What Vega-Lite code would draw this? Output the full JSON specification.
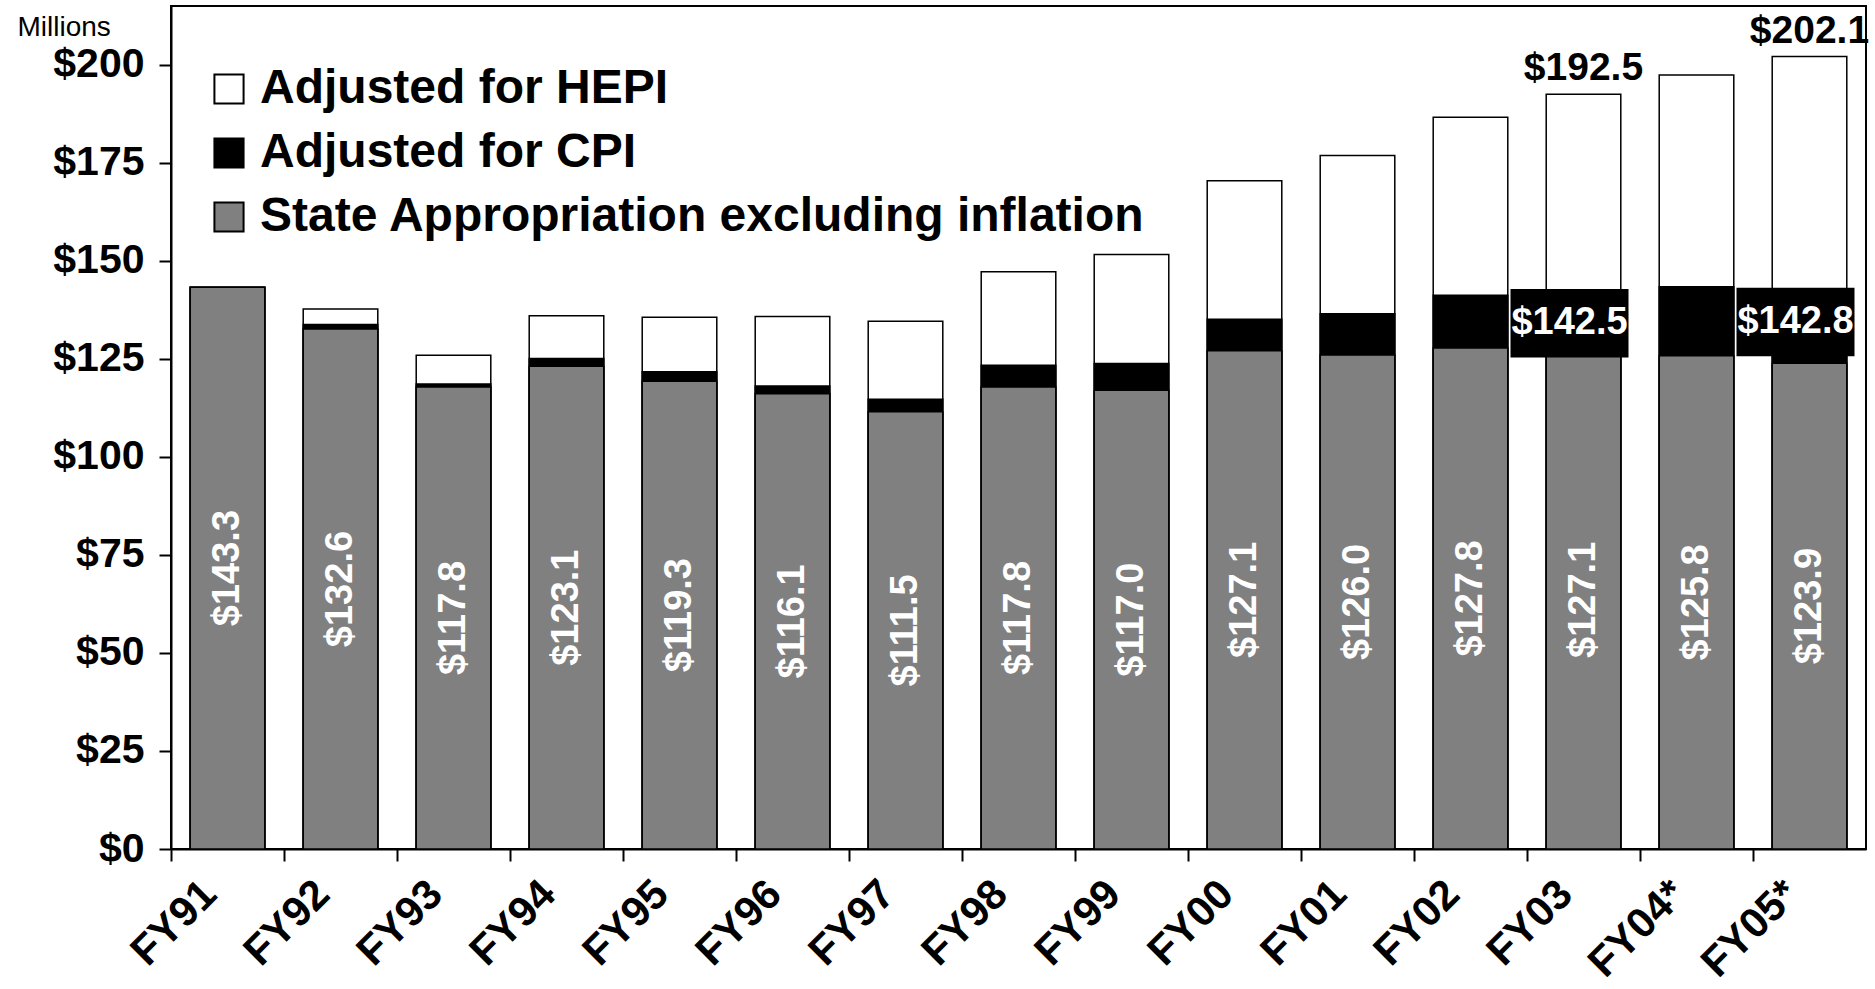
{
  "$schema": "https://vega.github.io/schema/vega-lite/v6.json",
  "autosize": "none",
  "width": 1695,
  "height": 843,
  "padding": {"left": 171, "top": 6, "right": 9, "bottom": 140},
  "background": "white",
  "config": {
    "view": {"stroke": "black", "strokeWidth": 2},
    "font": "Liberation Sans"
  },
  "data": {
    "values": [
      {"year": "FY91", "series": "Adjusted for HEPI", "value": 143.3},
      {"year": "FY92", "series": "Adjusted for HEPI", "value": 137.7},
      {"year": "FY93", "series": "Adjusted for HEPI", "value": 125.9},
      {"year": "FY94", "series": "Adjusted for HEPI", "value": 136.0},
      {"year": "FY95", "series": "Adjusted for HEPI", "value": 135.6},
      {"year": "FY96", "series": "Adjusted for HEPI", "value": 135.8},
      {"year": "FY97", "series": "Adjusted for HEPI", "value": 134.6},
      {"year": "FY98", "series": "Adjusted for HEPI", "value": 147.2},
      {"year": "FY99", "series": "Adjusted for HEPI", "value": 151.6},
      {"year": "FY00", "series": "Adjusted for HEPI", "value": 170.4},
      {"year": "FY01", "series": "Adjusted for HEPI", "value": 176.9},
      {"year": "FY02", "series": "Adjusted for HEPI", "value": 186.6},
      {"year": "FY03", "series": "Adjusted for HEPI", "value": 192.5},
      {"year": "FY04*", "series": "Adjusted for HEPI", "value": 197.4},
      {"year": "FY05*", "series": "Adjusted for HEPI", "value": 202.1},
      {"year": "FY91", "series": "Adjusted for CPI", "value": 143.3},
      {"year": "FY92", "series": "Adjusted for CPI", "value": 133.8},
      {"year": "FY93", "series": "Adjusted for CPI", "value": 118.6},
      {"year": "FY94", "series": "Adjusted for CPI", "value": 125.1},
      {"year": "FY95", "series": "Adjusted for CPI", "value": 121.7},
      {"year": "FY96", "series": "Adjusted for CPI", "value": 118.1},
      {"year": "FY97", "series": "Adjusted for CPI", "value": 114.7},
      {"year": "FY98", "series": "Adjusted for CPI", "value": 123.4},
      {"year": "FY99", "series": "Adjusted for CPI", "value": 123.8},
      {"year": "FY00", "series": "Adjusted for CPI", "value": 135.1},
      {"year": "FY01", "series": "Adjusted for CPI", "value": 136.5},
      {"year": "FY02", "series": "Adjusted for CPI", "value": 141.2},
      {"year": "FY03", "series": "Adjusted for CPI", "value": 142.5},
      {"year": "FY04*", "series": "Adjusted for CPI", "value": 143.4},
      {"year": "FY05*", "series": "Adjusted for CPI", "value": 142.8},
      {"year": "FY91", "series": "State Appropriation excluding inflation", "value": 143.3},
      {"year": "FY92", "series": "State Appropriation excluding inflation", "value": 132.6},
      {"year": "FY93", "series": "State Appropriation excluding inflation", "value": 117.8},
      {"year": "FY94", "series": "State Appropriation excluding inflation", "value": 123.1},
      {"year": "FY95", "series": "State Appropriation excluding inflation", "value": 119.3},
      {"year": "FY96", "series": "State Appropriation excluding inflation", "value": 116.1},
      {"year": "FY97", "series": "State Appropriation excluding inflation", "value": 111.5},
      {"year": "FY98", "series": "State Appropriation excluding inflation", "value": 117.8},
      {"year": "FY99", "series": "State Appropriation excluding inflation", "value": 117.0},
      {"year": "FY00", "series": "State Appropriation excluding inflation", "value": 127.1},
      {"year": "FY01", "series": "State Appropriation excluding inflation", "value": 126.0},
      {"year": "FY02", "series": "State Appropriation excluding inflation", "value": 127.8},
      {"year": "FY03", "series": "State Appropriation excluding inflation", "value": 127.1},
      {"year": "FY04*", "series": "State Appropriation excluding inflation", "value": 125.8},
      {"year": "FY05*", "series": "State Appropriation excluding inflation", "value": 123.9}
    ]
  },
  "resolve": {"axis": {"x": "independent"}},
  "layer": [
    {
      "mark": {"type": "bar", "width": {"band": 0.66}, "stroke": "black", "strokeWidth": 1.5},
      "encoding": {
        "x": {
          "field": "year", "type": "nominal", "sort": null,
          "scale": {"paddingInner": 0, "paddingOuter": 0},
          "axis": {
            "orient": "bottom", "title": null, "ticks": false, "domain": true,
            "domainColor": "black", "domainWidth": 2,
            "labelAngle": -45, "labelAlign": "right", "labelBaseline": "middle",
            "labelOffset": -18,
            "labelFontSize": 42, "labelFontWeight": "bold",
            "labelColor": "black", "labelPadding": 38, "labelFont": "Liberation Sans"
          }
        },
        "y": {
          "field": "value", "type": "quantitative", "stack": null,
          "scale": {"domain": [0, 215], "nice": false},
          "axis": {
            "values": [0, 25, 50, 75, 100, 125, 150, 175, 200],
            "format": "$d", "grid": false,
            "domainColor": "black", "domainWidth": 2,
            "tickColor": "black", "tickWidth": 2, "tickSize": 12,
            "labelFontSize": 41, "labelFontWeight": "bold", "labelColor": "black",
            "labelPadding": 15, "labelFont": "Liberation Sans",
            "title": "Millions", "titleAngle": 0, "titleAlign": "left",
            "titleBaseline": "middle", "titleX": -154, "titleY": 21,
            "titleFontSize": 28, "titleFontWeight": "normal", "titleColor": "black",
            "titleFont": "Liberation Sans"
          }
        },
        "fill": {
          "field": "series", "type": "nominal",
          "scale": {
            "domain": ["Adjusted for HEPI", "Adjusted for CPI", "State Appropriation excluding inflation"],
            "range": ["white", "black", "#808080"]
          },
          "legend": {
            "orient": "none", "legendX": 34, "legendY": 59, "title": null,
            "symbolType": "square", "symbolSize": 850,
            "symbolStrokeColor": "black", "symbolStrokeWidth": 2,
            "labelFontSize": 48, "labelFontWeight": "bold", "labelColor": "black",
            "labelFont": "Liberation Sans", "labelLimit": 2000,
            "labelOffset": 7, "rowPadding": 16
          }
        }
      }
    },
    {
      "transform": [
        {"filter": "datum.series === 'State Appropriation excluding inflation'"},
        {"calculate": "datum.value / 2", "as": "mid"}
      ],
      "mark": {"type": "text", "angle": 270, "color": "white", "fontSize": 38, "fontWeight": "bold", "align": "center", "baseline": "middle", "font": "Liberation Sans"},
      "encoding": {
        "x": {
          "field": "year", "type": "nominal", "sort": null,
          "axis": {
            "orient": "bottom", "title": null, "labels": false, "domain": false,
            "ticks": true, "tickSize": 12, "tickColor": "black", "tickWidth": 2,
            "bandPosition": 0, "grid": false
          }
        },
        "y": {"field": "mid", "type": "quantitative", "title": "Millions"},
        "text": {"field": "value", "type": "quantitative", "format": "$.1f"}
      }
    },
    {
      "transform": [
        {"filter": "datum.series === 'Adjusted for HEPI' && (datum.year === 'FY03' || datum.year === 'FY05*')"}
      ],
      "mark": {"type": "text", "color": "black", "fontSize": 39, "fontWeight": "bold", "align": "center", "baseline": "bottom", "dy": -6, "font": "Liberation Sans"},
      "encoding": {
        "x": {"field": "year", "type": "nominal", "sort": null, "axis": null},
        "y": {"field": "value", "type": "quantitative", "title": "Millions"},
        "text": {"field": "value", "type": "quantitative", "format": "$.1f"}
      }
    },
    {
      "transform": [
        {"filter": "datum.series === 'Adjusted for CPI' && (datum.year === 'FY03' || datum.year === 'FY05*')"}
      ],
      "mark": {"type": "point", "shape": "M-1,-0.58H1V0.58H-1Z", "filled": true, "color": "black", "opacity": 1, "size": 13924, "xOffset": -14, "yOffset": 33},
      "encoding": {
        "x": {"field": "year", "type": "nominal", "sort": null, "axis": null},
        "y": {"field": "value", "type": "quantitative", "title": "Millions"}
      }
    },
    {
      "transform": [
        {"filter": "datum.series === 'Adjusted for CPI' && (datum.year === 'FY03' || datum.year === 'FY05*')"}
      ],
      "mark": {"type": "text", "color": "white", "fontSize": 38, "fontWeight": "bold", "align": "center", "baseline": "middle", "dx": -14, "dy": 33, "font": "Liberation Sans"},
      "encoding": {
        "x": {"field": "year", "type": "nominal", "sort": null, "axis": null},
        "y": {"field": "value", "type": "quantitative", "title": "Millions"},
        "text": {"field": "value", "type": "quantitative", "format": "$.1f"}
      }
    }
  ]
}
